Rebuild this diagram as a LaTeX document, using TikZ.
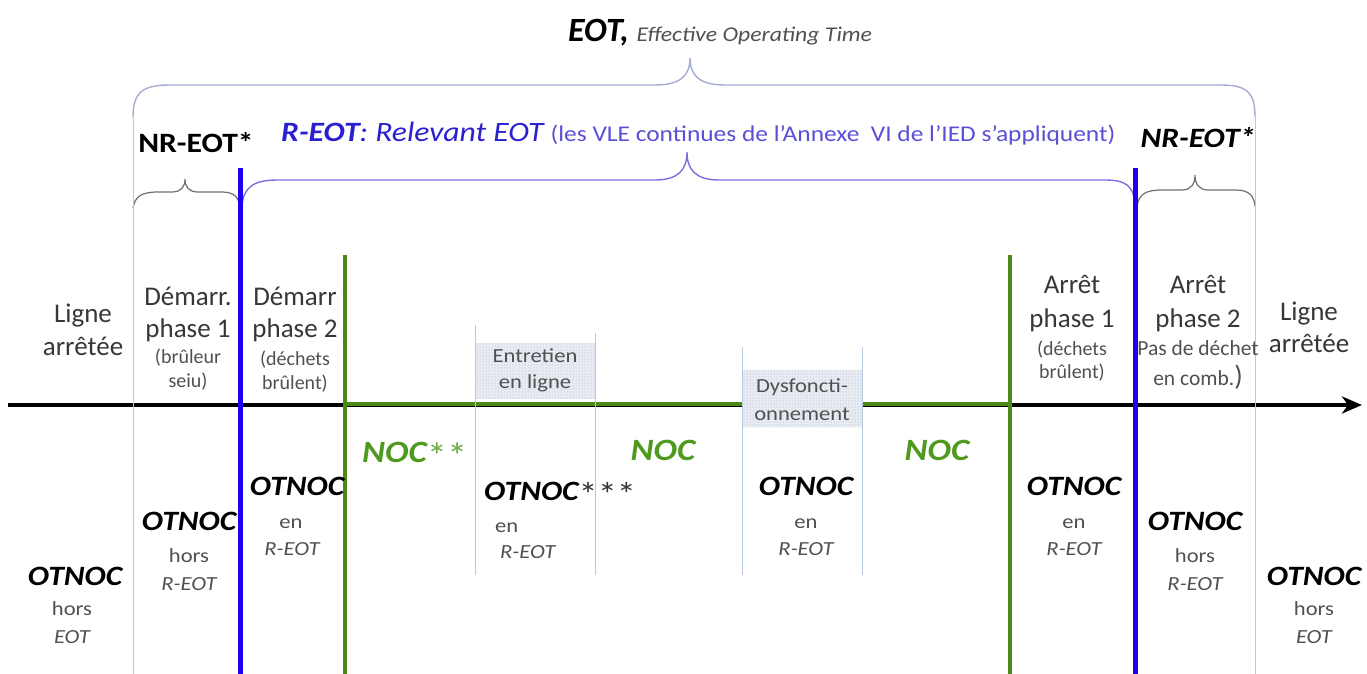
\documentclass[tikz,border=0pt]{standalone}
\usepackage{fontspec}
\setmainfont{Carlito}
\newfontfamily\wfont[FakeStretch=1.13]{Carlito}
\usetikzlibrary{arrows.meta,patterns}

\definecolor{bracegray}{RGB}{165,172,210}
\definecolor{rbracecol}{RGB}{122,111,224}
\definecolor{nrbrace}{RGB}{110,110,110}
\definecolor{thinblue}{RGB}{185,201,222}
\definecolor{barblue}{RGB}{30,0,240}
\definecolor{bargreen}{RGB}{75,138,23}
\definecolor{nocgreen}{RGB}{78,154,30}
\definecolor{stargreen}{RGB}{110,170,70}
\definecolor{rblue}{RGB}{43,32,208}
\definecolor{rpurple}{RGB}{90,79,213}
\definecolor{darktxt}{RGB}{55,55,55}
\definecolor{midtxt}{RGB}{80,80,80}
\definecolor{boxfill}{RGB}{232,236,243}
\definecolor{dotgray}{RGB}{160,170,190}

\begin{document}
\begin{tikzpicture}[x=1pt,y=-1pt,
  txt/.style={anchor=base,inner sep=0pt},
  big/.style={txt,font=\fontsize{27}{30}\selectfont,text=darktxt},
  small/.style={txt,font=\fontsize{20}{24}\selectfont,text=midtxt},
  otn/.style={txt,font=\wfont\fontsize{28}{30}\selectfont\bfseries\itshape,text=black},
  sub/.style={txt,font=\wfont\fontsize{20}{24}\selectfont,text=midtxt},
  subit/.style={txt,font=\wfont\fontsize{20}{24}\selectfont\itshape,text=midtxt},
  noc/.style={txt,font=\wfont\fontsize{31}{34}\selectfont\bfseries\itshape,text=nocgreen},
  thinrule/.style={draw=thinblue,line width=1pt},
  bluerule/.style={draw=barblue,line width=5pt},
  greenrule/.style={draw=bargreen,line width=4pt},
  bracestyle/.style={line width=1.4pt,line cap=round},
  shaded/.style={fill=boxfill,postaction={pattern=dots,pattern color=dotgray}}
]
\useasboundingbox (0,0) rectangle (1367,674);

% ---------- braces ----------
% EOT, whole operating time
\draw[bracestyle,draw=bracegray]
  (133,117) .. controls (133,92) and (143,85) .. (170,85) -- (655,85)
  .. controls (680,85) and (690,76) .. (690,58)
  .. controls (690,76) and (700,85) .. (725,85) -- (1220,85)
  .. controls (1247,85) and (1255,92) .. (1255,117);
% R-EOT
\draw[bracestyle,draw=rbracecol]
  (242,205) .. controls (244,186) and (255,180) .. (278,180) -- (655,180)
  .. controls (678,180) and (687,170) .. (687,152)
  .. controls (687,170) and (696,180) .. (719,180) -- (1105,180)
  .. controls (1126,180) and (1134,186) .. (1135,205);
% NR-EOT, start-up side
\draw[bracestyle,draw=nrbrace,line width=1.2pt]
  (133,208) .. controls (135,196) and (142,192) .. (158,192) -- (172,192)
  .. controls (181,192) and (185,187) .. (185,179)
  .. controls (185,187) and (189,192) .. (198,192) -- (222,192)
  .. controls (235,192) and (239,198) .. (240,208);
% NR-EOT, shut-down side
\draw[bracestyle,draw=nrbrace,line width=1.2pt]
  (1137,206) .. controls (1139,194) and (1146,190) .. (1162,190) -- (1182,190)
  .. controls (1191,190) and (1195,184) .. (1195,175)
  .. controls (1195,184) and (1199,190) .. (1208,190) -- (1236,190)
  .. controls (1249,190) and (1254,196) .. (1255,206);

% ---------- time axis ----------
\draw[line width=4pt,-{Stealth[length=20pt,width=17pt,inset=6pt]}] (8,405) -- (1362,405);
\draw[draw=bargreen,line width=4.5pt] (345,404) -- (1010,404);

% shaded event boxes
\path[shaded] (475,343) rectangle (595,399);
\path[shaded] (742,370) rectangle (862,427);

% ---------- vertical rules ----------
\draw[thinrule] (133,115) -- (133,674);
\draw[thinrule] (1255,115) -- (1255,674);
\draw[thinrule] (475,325) -- (475,575);
\draw[thinrule] (595,333) -- (595,575);
\draw[thinrule] (742,347) -- (742,575);
\draw[thinrule] (862,347) -- (862,575);
\draw[bluerule] (240,168) -- (240,674);
\draw[bluerule] (1135,168) -- (1135,674);
\draw[greenrule] (345,255) -- (345,674);
\draw[greenrule] (1010,255) -- (1010,674);

% ---------- titles ----------
\node[txt,anchor=base west] (eot) at (568,42)
  {\fontsize{34}{36}\selectfont\bfseries\itshape EOT,\ \wfont\fontsize{21}{24}\selectfont\mdseries\itshape\color{midtxt}Effective Operating Time};
\node[txt,anchor=base west,text=rblue] (reot) at (281,142)
  {\wfont\fontsize{28}{30}\selectfont\bfseries\itshape R-EOT\mdseries: Relevant EOT
   \fontsize{22.5}{24}\selectfont\upshape\color{rpurple}(les VLE continues de l’Annexe\ \ VI de l’IED s’appliquent)};
\node[txt,font=\wfont\fontsize{28}{30}\selectfont\bfseries] (nrl) at (196,153) {NR-EOT*};
\node[txt,font=\wfont\fontsize{28}{30}\selectfont\bfseries\itshape] (nrr) at (1198,147) {NR-EOT*};

% ---------- phase labels above the axis ----------
\node[big] (la1) at (83,322) {Ligne};
\node[big] (la2) at (83,355) {arrêtée};
\node[big] (dp1a) at (188,305) {Démarr.};
\node[big] (dp1b) at (188,337) {phase 1};
\node[small] (dp1c) at (188,363) {(brûleur};
\node[small] (dp1d) at (188,387) {seiu)};
\node[big] (dp2a) at (295,305) {Démarr};
\node[big] (dp2b) at (295,337) {phase 2};
\node[small] (dp2c) at (295,365) {(déchets};
\node[small] (dp2d) at (295,389) {brûlent)};
\node[small,font=\wfont\fontsize{20}{24}\selectfont] (ent1) at (535,362) {Entretien};
\node[small,font=\wfont\fontsize{20}{24}\selectfont] (ent2) at (535,388) {en ligne};
\node[small,font=\wfont\fontsize{20}{24}\selectfont] (dys1) at (802,392) {Dysfoncti-};
\node[small,font=\wfont\fontsize{20}{24}\selectfont] (dys2) at (802,420) {onnement};
\node[big] (ap1a) at (1072,293) {Arrêt};
\node[big] (ap1b) at (1072,327) {phase 1};
\node[small] (ap1c) at (1072,355) {(déchets};
\node[small] (ap1d) at (1072,378) {brûlent)};
\node[big] (ap2a) at (1198,293) {Arrêt};
\node[big] (ap2b) at (1198,327) {phase 2};
\node[small,font=\fontsize{21.5}{24}\selectfont] (ap2c) at (1198,355) {Pas de déchet};
\node[small,font=\fontsize{21.5}{24}\selectfont] (ap2d) at (1198,385) {en comb.{\fontsize{28}{30}\selectfont)}};
\node[big] (lb1) at (1309,320) {Ligne};
\node[big] (lb2) at (1309,352) {arrêtée};

% ---------- operating modes below the axis ----------
\node[noc,anchor=base west] (noc1) at (362,462)
  {NOC{\mdseries\upshape\color{stargreen}\fontsize{36}{36}\selectfont\raisebox{-6pt}{**}}};
\node[noc] (noc2) at (663,460) {NOC};
\node[noc] (noc3) at (937,460) {NOC};

\node[otn] (o1) at (75,585) {OTNOC};
\node[sub] (o1b) at (72,615) {hors};
\node[subit] (o1c) at (72,643) {EOT};

\node[otn] (o2) at (189,530) {OTNOC};
\node[sub] (o2b) at (189,562) {hors};
\node[subit] (o2c) at (189,590) {R-EOT};

\node[otn] (o3) at (297,495) {OTNOC};
\node[sub] (o3b) at (291,528) {en};
\node[subit] (o3c) at (292,555) {R-EOT};

\node[otn,anchor=base west] (o4) at (484,500)
  {OTNOC{\mdseries\upshape\color{darktxt}\fontsize{34}{34}\selectfont\raisebox{-6pt}{***}}};
\node[sub,anchor=base west] (o4b) at (495,532) {en};
\node[subit,anchor=base west] (o4c) at (500,558) {R-EOT};

\node[otn] (o5) at (806,495) {OTNOC};
\node[sub] (o5b) at (806,528) {en};
\node[subit] (o5c) at (806,555) {R-EOT};

\node[otn] (o6) at (1074,495) {OTNOC};
\node[sub] (o6b) at (1074,528) {en};
\node[subit] (o6c) at (1074,555) {R-EOT};

\node[otn] (o7) at (1195,530) {OTNOC};
\node[sub] (o7b) at (1195,562) {hors};
\node[subit] (o7c) at (1195,590) {R-EOT};

\node[otn] (o8) at (1314,585) {OTNOC};
\node[sub] (o8b) at (1314,615) {hors};
\node[subit] (o8c) at (1314,643) {EOT};
\end{tikzpicture}
\end{document}
